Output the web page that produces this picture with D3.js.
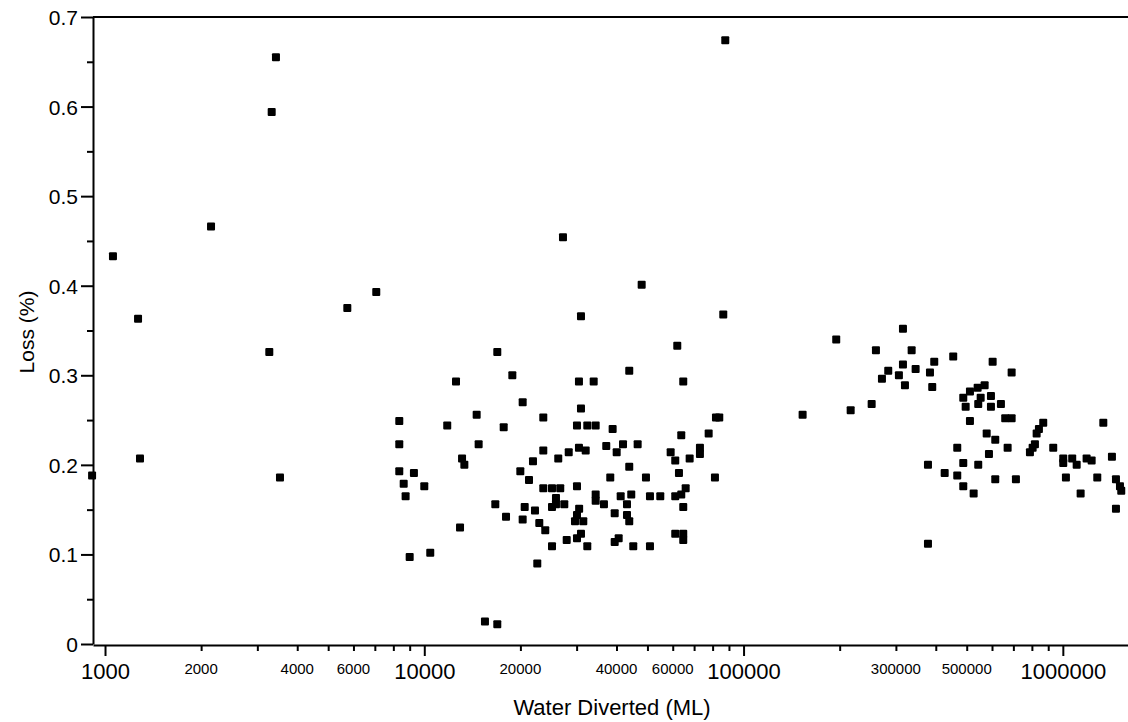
<!DOCTYPE html>
<html>
<head>
<meta charset="utf-8">
<script src="https://cdn.jsdelivr.net/npm/d3@7"></script>
<style>
  body { margin: 0; background: #fff; }
  text { font-family: "Liberation Sans", Arial, sans-serif; fill: #000; }
</style>
</head>
<body>
<svg></svg>
<script>
// water diverted (ML) and loss (%) for each site
var diverted = [
  911, 1059, 1269, 1287, 2148, 3270, 3327, 3431, 3532, 5740, 7073,
  8350, 8350, 8350, 8620, 8740, 9280, 9000, 10000, 10440, 11800, 12570, 12940, 13130, 13350,
  14590, 14800, 15490, 16690, 16930, 16930, 17730, 18030, 18870, 19990, 20330, 20330, 20630,
  21280, 21900, 22220, 22590, 22920, 23590, 23590, 23590, 23930, 25120, 25120, 25120, 25850,
  25850, 26280, 26660, 27190, 27450, 27930, 28340, 29650, 30080, 30080, 30080, 30080, 30510,
  30510, 30550, 30960, 30960, 30960, 31480, 32030, 32400, 32400, 33930, 34420, 34420, 34420,
  36540, 37150, 38240, 38900, 39480, 39480, 40050, 40630, 41220, 41920, 43140, 43140, 43850,
  43850, 43850, 44490, 45140, 46590, 47960, 49470, 50920, 50920, 54850, 59110, 61100, 61100,
  61100, 62000, 62760, 63810, 63810, 64730, 64730, 64730, 64730, 65870, 67790, 73010, 73010,
  77750, 81360, 81960, 83930, 86390, 87650,
  153100, 195100, 216500, 251900, 259800, 271300, 283900, 306600, 315700, 315700, 320300,
  336100, 345900, 378100, 378100, 383600, 389900, 395600, 426500, 453600, 467000, 467000,
  487700, 487700, 487700, 496200, 511800, 511800, 525600, 541000, 543300, 543300, 552900,
  569000, 577400, 587000, 595500, 595500, 602800, 614300, 614300, 639900, 660000, 671600,
  691300, 691300, 713000, 788800, 804300, 817800, 827900, 841600, 868200, 933100, 1003000,
  1003000, 1022600, 1070000, 1105000, 1137000, 1187000, 1231000, 1282000, 1339000, 1425000,
  1467000, 1467000, 1510000, 1524000
];
var loss = [
  0.188, 0.433, 0.363, 0.207, 0.466, 0.326, 0.594, 0.655, 0.186, 0.375, 0.393,
  0.249, 0.223, 0.193, 0.179, 0.165, 0.191, 0.097, 0.176, 0.102, 0.244, 0.293, 0.130, 0.207, 0.200,
  0.256, 0.223, 0.025, 0.156, 0.326, 0.022, 0.242, 0.142, 0.300, 0.193, 0.270, 0.139, 0.153,
  0.183, 0.204, 0.149, 0.090, 0.135, 0.253, 0.216, 0.174, 0.127, 0.174, 0.153, 0.109, 0.163,
  0.156, 0.207, 0.174, 0.454, 0.156, 0.116, 0.214, 0.137, 0.244, 0.176, 0.144, 0.118, 0.293,
  0.219, 0.151, 0.366, 0.263, 0.123, 0.137, 0.216, 0.244, 0.109, 0.293, 0.244, 0.167, 0.160,
  0.156, 0.221, 0.186, 0.240, 0.146, 0.114, 0.214, 0.118, 0.165, 0.223, 0.156, 0.144, 0.305,
  0.198, 0.137, 0.167, 0.109, 0.223, 0.401, 0.186, 0.165, 0.109, 0.165, 0.214, 0.205, 0.165,
  0.123, 0.333, 0.191, 0.233, 0.167, 0.293, 0.153, 0.123, 0.116, 0.174, 0.207, 0.219, 0.212,
  0.235, 0.186, 0.253, 0.253, 0.368, 0.674,
  0.256, 0.340, 0.261, 0.268, 0.328, 0.296, 0.305, 0.300, 0.352, 0.312, 0.289,
  0.328, 0.307, 0.200, 0.112, 0.303, 0.287, 0.315, 0.191, 0.321, 0.219, 0.188,
  0.275, 0.202, 0.176, 0.265, 0.282, 0.249, 0.168, 0.286, 0.268, 0.200, 0.275,
  0.289, 0.235, 0.212, 0.277, 0.265, 0.315, 0.228, 0.184, 0.268, 0.252, 0.219,
  0.303, 0.252, 0.184, 0.214, 0.219, 0.223, 0.235, 0.240, 0.247, 0.219, 0.207,
  0.202, 0.186, 0.207, 0.200, 0.168, 0.207, 0.205, 0.186, 0.247, 0.209,
  0.184, 0.151, 0.176, 0.171
];
var yTicks = [0, 0.1, 0.2, 0.3, 0.4, 0.5, 0.6, 0.7];
var bigLabels = [1000, 10000, 100000, 1000000];
var smallLabels = [2000, 4000, 6000, 20000, 40000, 60000, 300000, 500000];

var svgWidth = 1128, svgHeight = 722;
var svg = d3.select("svg")
    .attr("width", svgWidth)
    .attr("height", svgHeight);

var plotLeft = 93, plotRight = 1128, plotTop = 17, plotBottom = 644;

var xScale = d3.scaleLog()
    .domain([917, 1600000])
    .range([plotLeft, plotRight]);
var yScale = d3.scaleLinear()
    .domain([0, 0.7])
    .range([plotBottom, plotTop]);

// minor ticks: every integer multiple inside each decade
var xMinor = [];
[1000, 10000, 100000, 1000000].forEach(function(d) {
    for (var k = 2; k <= 9; k++) if (d * k < 1600000) xMinor.push(d * k);
});
var yMinor = d3.range(0.05, 0.7, 0.1);

// y axis
svg.append("g")
    .attr("transform", "translate(" + plotLeft + ",0)")
    .call(d3.axisLeft(yScale).tickValues(yMinor).tickSize(6).tickFormat(""))
    .call(function(g) { g.select(".domain").remove(); });
var yAxis = svg.append("g")
    .attr("transform", "translate(" + plotLeft + ",0)")
    .call(d3.axisLeft(yScale).tickValues(yTicks).tickSize(12).tickSizeOuter(0)
        .tickFormat(function(d) { return d === 0 ? "0" : d3.format(".1f")(d); }));
yAxis.selectAll("text").style("font-size", "21px").attr("x", -15).attr("dy", "0.36em");

// x axis
svg.append("g")
    .attr("transform", "translate(0," + (plotBottom + 1) + ")")
    .call(d3.axisBottom(xScale).tickValues(xMinor).tickSize(6).tickFormat(""))
    .call(function(g) { g.select(".domain").remove(); });
var xAxis = svg.append("g")
    .attr("transform", "translate(0," + (plotBottom + 1) + ")")
    .call(d3.axisBottom(xScale).tickValues(bigLabels).tickSize(11).tickSizeOuter(0)
        .tickFormat(d3.format("d")));
xAxis.selectAll("text").style("font-size", "22px").attr("y", 18).attr("dy", "0.71em");

svg.append("g")
    .attr("transform", "translate(0," + (plotBottom + 1) + ")")
    .selectAll("text")
    .data(smallLabels)
    .join("text")
    .attr("x", function(d) { return xScale(d); })
    .attr("y", 29)
    .attr("text-anchor", "middle")
    .style("font-size", "15px")
    .text(function(d) { return d; });

svg.selectAll(".domain, .tick line").attr("stroke", "#000").attr("stroke-width", 2);

// top frame line
svg.append("line")
    .attr("x1", plotLeft).attr("x2", plotRight)
    .attr("y1", yScale(0.7)).attr("y2", yScale(0.7))
    .attr("stroke", "#000").attr("stroke-width", 2);

// points
var pts = diverted.map(function(d, i) { return [d, loss[i]]; });
svg.append("g").selectAll("rect")
    .data(pts)
    .join("rect")
    .attr("x", function(d) { return xScale(d[0]) - 4; })
    .attr("y", function(d) { return yScale(d[1]) - 4; })
    .attr("width", 8)
    .attr("height", 8)
    .attr("rx", 1)
    .attr("fill", "#000");

// axis titles
svg.append("text")
    .attr("x", 612)
    .attr("y", 715)
    .attr("text-anchor", "middle")
    .style("font-size", "22px")
    .text("Water Diverted (ML)");
svg.append("text")
    .attr("transform", "translate(34,332) rotate(-90)")
    .attr("text-anchor", "middle")
    .style("font-size", "21px")
    .text("Loss (%)");
</script>
</body>
</html>
